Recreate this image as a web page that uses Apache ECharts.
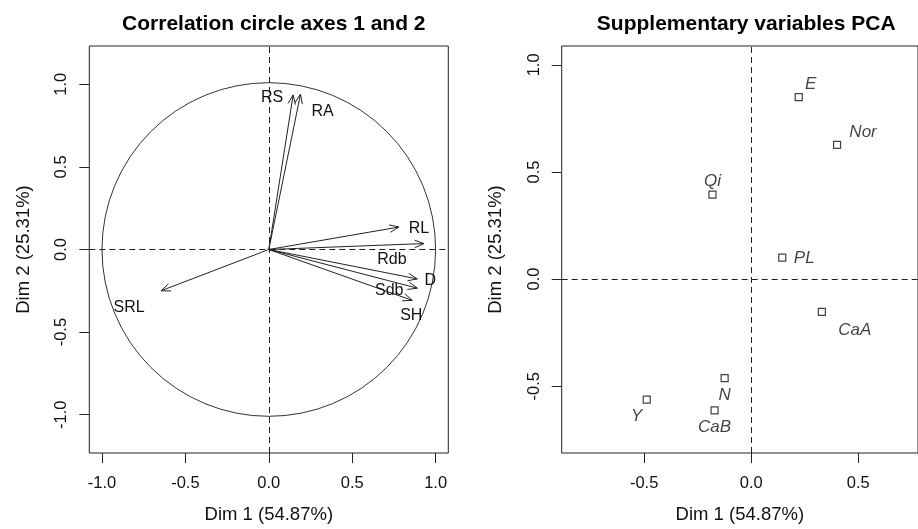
<!DOCTYPE html>
<html><head><meta charset="utf-8">
<script src="https://cdn.jsdelivr.net/npm/echarts@6/dist/echarts.min.js"></script>
<style>html,body{margin:0;padding:0;background:#fff}#c{width:918px;height:529px}</style>
</head><body><div id="c"></div>
<script>
// ---- data ----
const varNames = ['RS','RA','RL','Rdb','D','Sdb','SH','SRL'];
const varDim1 = [0.146,0.190,0.780,0.930,0.890,0.890,0.860,-0.646];
const varDim2 = [0.936,0.940,0.136,0.036,-0.178,-0.234,-0.308,-0.250];
const suppNames = ['E','Nor','Qi','PL','CaA','N','Y','CaB'];
const suppDim1 = [0.222,0.401,-0.181,0.145,0.330,-0.124,-0.488,-0.171];
const suppDim2 = [0.849,0.626,0.394,0.100,-0.153,-0.462,-0.563,-0.613];
const ticksLeft = [-1,-0.5,0,0.5,1];
const ticksRightX = [-0.5,0,0.5];
const ticksRightY = [-0.5,0,0.5,1];
const titles = ['Correlation circle axes 1 and 2','Supplementary variables PCA'];
const xName = 'Dim 1 (54.87%)';
const yName = 'Dim 2 (25.31%)';
// ---- label offsets in px (styling only) ----
const varLabelOffset = [[-21,3],[22,17],[20,2],[-32,16],[13,2],[-28,2],[-1,15],[-32,17]];
const suppLabelOffset = [[12,-13],[26,-13],[0,-13],[22,1],[33,18],[0,17],[-10,17],[0,17]];

const FONT = '"Liberation Sans", Arial, Helvetica, sans-serif';
const INK = '#222';

function xAxisCfg(gi, min, max, ticks){
  return {
    gridIndex: gi, type:'value', min, max,
    name: xName, nameLocation:'middle', nameGap: 52,
    nameTextStyle:{fontFamily:FONT, fontSize:18.5, color:'#111'},
    axisLine:{show:false, onZero:false},
    splitLine:{show:false},
    axisTick:{show:true, inside:false, length:10, customValues: ticks, lineStyle:{color:INK, width:1}},
    axisLabel:{show:true, margin:22, customValues: ticks, fontFamily:FONT, fontSize:16.5, color:'#111',
      formatter: v => v.toFixed(1)}
  };
}
function yAxisCfg(gi, min, max, ticks){
  return {
    gridIndex: gi, type:'value', min, max,
    name: yName, nameLocation:'middle', nameGap: 56, nameRotate: 90,
    nameTextStyle:{fontFamily:FONT, fontSize:18.5, color:'#111'},
    axisLine:{show:false, onZero:false},
    splitLine:{show:false},
    axisTick:{show:true, inside:false, length:10, customValues: ticks, lineStyle:{color:INK, width:1}},
    axisLabel:{show:true, rotate:90, margin:19, customValues: ticks, fontFamily:FONT, fontSize:16.5, color:'#111',
      formatter: v => v.toFixed(1)}
  };
}
const dashLine = {
  silent:true, symbol:'none', label:{show:false},
  lineStyle:{color:INK, type:[6,4], width:1},
  data:[{xAxis:0},{yAxis:0}]
};

const chart = echarts.init(document.getElementById('c'), null, {renderer:'canvas'});
const option = {
  animation:false,
  backgroundColor:'#fff',
  title:[
    {text:titles[0], left:268.8, top:9, textAlign:'center',
     textStyle:{fontFamily:FONT, fontSize:21, fontWeight:'bold', color:'#000'}},
    {text:titles[1], left:741.2, top:9, textAlign:'center',
     textStyle:{fontFamily:FONT, fontSize:21, fontWeight:'bold', color:'#000'}}
  ],
  grid:[
    {left:89.3, top:46, width:359, height:410.5, show:true, borderColor:INK, borderWidth:1, backgroundColor:'transparent', containLabel:false},
    {left:561.7, top:46, width:359, height:410.5, show:true, borderColor:INK, borderWidth:1, backgroundColor:'transparent', containLabel:false}
  ],
  xAxis:[ xAxisCfg(0,-1.076,1.076,ticksLeft), xAxisCfg(1,-0.885,0.779,ticksRightX) ],
  yAxis:[ yAxisCfg(0,-1.232,1.232,ticksLeft), yAxisCfg(1,-0.812,1.088,ticksRightY) ],
  series:[
    { // unit correlation circle
      type:'custom', xAxisIndex:0, yAxisIndex:0, silent:true,
      data:[[0,0]], encode:{x:0,y:1},
      renderItem:(params, api)=>{
        const c = api.coord([api.value(0), api.value(1)]);
        const r = api.size([1,1])[0];
        return {type:'circle', shape:{cx:c[0], cy:c[1], r}, style:{fill:'none', stroke:'#333', lineWidth:1}};
      },
      markLine: dashLine
    },
    { // variable arrows
      type:'custom', xAxisIndex:0, yAxisIndex:0, silent:true,
      data: varNames.map((n,i)=>[varDim1[i], varDim2[i], i]),
      encode:{x:0,y:1},
      renderItem:(params, api)=>{
        const o = api.coord([0,0]);
        const t = api.coord([api.value(0), api.value(1)]);
        const i = api.value(2);
        const a = Math.atan2(t[1]-o[1], t[0]-o[0]);
        const L = 10, ang = 22*Math.PI/180;
        const h1 = [t[0]-L*Math.cos(a-ang), t[1]-L*Math.sin(a-ang)];
        const h2 = [t[0]-L*Math.cos(a+ang), t[1]-L*Math.sin(a+ang)];
        const off = varLabelOffset[i];
        return {type:'group', children:[
          {type:'line', shape:{x1:o[0], y1:o[1], x2:t[0], y2:t[1]}, style:{stroke:'#222', lineWidth:1}},
          {type:'polyline', shape:{points:[h1,t,h2]}, style:{stroke:'#222', lineWidth:1, fill:'none'}},
          {type:'text', x:t[0]+off[0], y:t[1]+off[1],
           style:{text:varNames[i], align:'center', verticalAlign:'middle', fontFamily:FONT, fontSize:16, fill:'#111'}}
        ]};
      }
    },
    { // supplementary variables
      type:'scatter', xAxisIndex:1, yAxisIndex:1, silent:true,
      symbol:'rect', symbolSize:7,
      itemStyle:{color:'#fff', borderColor:'#111', borderWidth:1.2},
      data: suppNames.map((n,i)=>({
        value:[suppDim1[i], suppDim2[i]],
        label:{show:true, position:'inside', formatter:n, offset:suppLabelOffset[i],
          fontFamily:FONT, fontSize:17, fontStyle:'italic', color:'#111', align:'center', verticalAlign:'middle'}
      })),
      markLine: dashLine
    }
  ]
};
chart.setOption(option);
</script>
</body></html>
